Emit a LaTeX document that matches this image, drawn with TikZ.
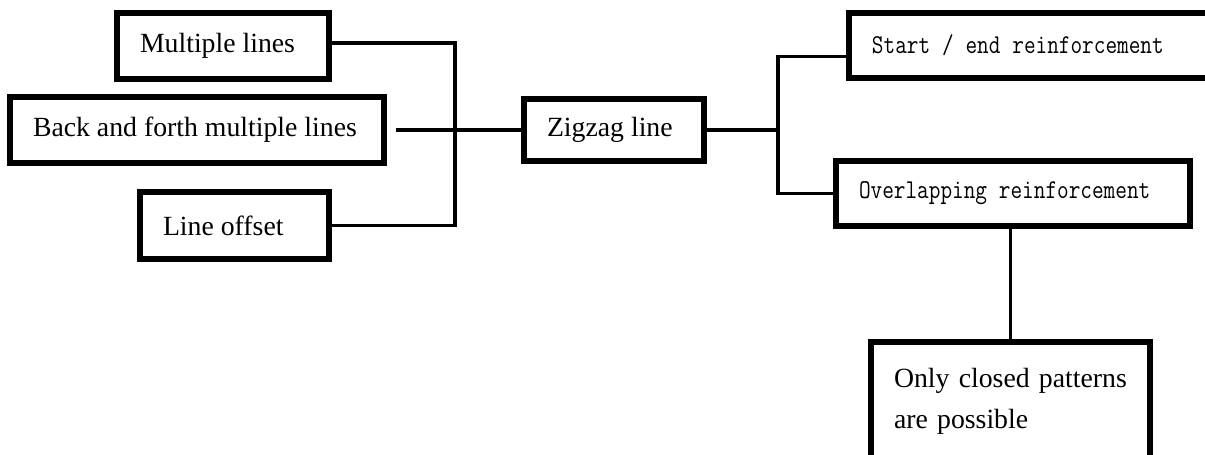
\documentclass[tikz,border=0pt]{standalone}
\usepackage{fontspec}
\setmainfont{Liberation Serif}
\usetikzlibrary{calc,positioning}
\newcommand{\monotext}[1]{{\ttfamily\fontsize{15.5}{18}\selectfont\spaceskip=0.525em\relax\scalebox{0.83}[1]{#1}}}
\newcommand{\lefttext}[2]{\makebox[#1][l]{#2}}

\begin{document}
\begin{tikzpicture}[
  box/.style={draw,line width=3.4pt,inner ysep=0pt,inner xsep=0.46cm,font=\fontsize{15.8}{18}\selectfont},
  wire/.style={line width=1.9pt}]
\useasboundingbox (0,0) rectangle (24.1,-9.08);
\fill[white] (0,0) rectangle (24.1,-9.08);
\clip (0,0) rectangle (24.1,-9.08);
% ---------- left column ----------
\node[box,minimum height=1.32cm] (multi) at (4.46,-0.92) {\lefttext{3.32cm}{Multiple lines}};
\node[box,minimum height=1.32cm] (back) at (3.94,-2.60) {\lefttext{6.56cm}{Back and forth multiple lines}};
\node[box,minimum height=1.34cm] (offset) at (4.69,-4.51) {\lefttext{2.86cm}{Line offset}};
\coordinate (busL) at (9.10,-2.60);
\draw[wire] ([yshift=0.06cm]multi.east) -| (busL) |- (offset.east);
% ---------- centre ----------
\node[box,minimum height=1.24cm] (zig) at (12.28,-2.60) {\lefttext{2.68cm}{Zigzag line}};
\draw[wire] ([xshift=0.18cm]back.east) -- (zig.west);
\coordinate (busR) at (15.56,-2.60);
\draw[wire] (zig.east) -- (busR);
% ---------- right column ----------
\node[box,anchor=west,minimum height=1.30cm] (start) at (16.92,-0.91) {\lefttext{6.96cm}{\monotext{Start / end reinforcement}}};
\node[box,minimum height=1.30cm] (overlap) at (20.26,-3.87) {\lefttext{6.16cm}{\monotext{Overlapping reinforcement}}};
\draw[wire] ([yshift=-0.22cm]start.west) -| (busR) |- (overlap.west);
\node[box,font=\fontsize{15.8}{23.3}\selectfont,align=left,text width=4.66cm,minimum height=2.36cm] (closed) at (20.21,-8.02) {Only closed patterns\\are possible};
\draw[wire] (closed.north) -- (closed.north |- overlap.south);
\end{tikzpicture}
\end{document}
